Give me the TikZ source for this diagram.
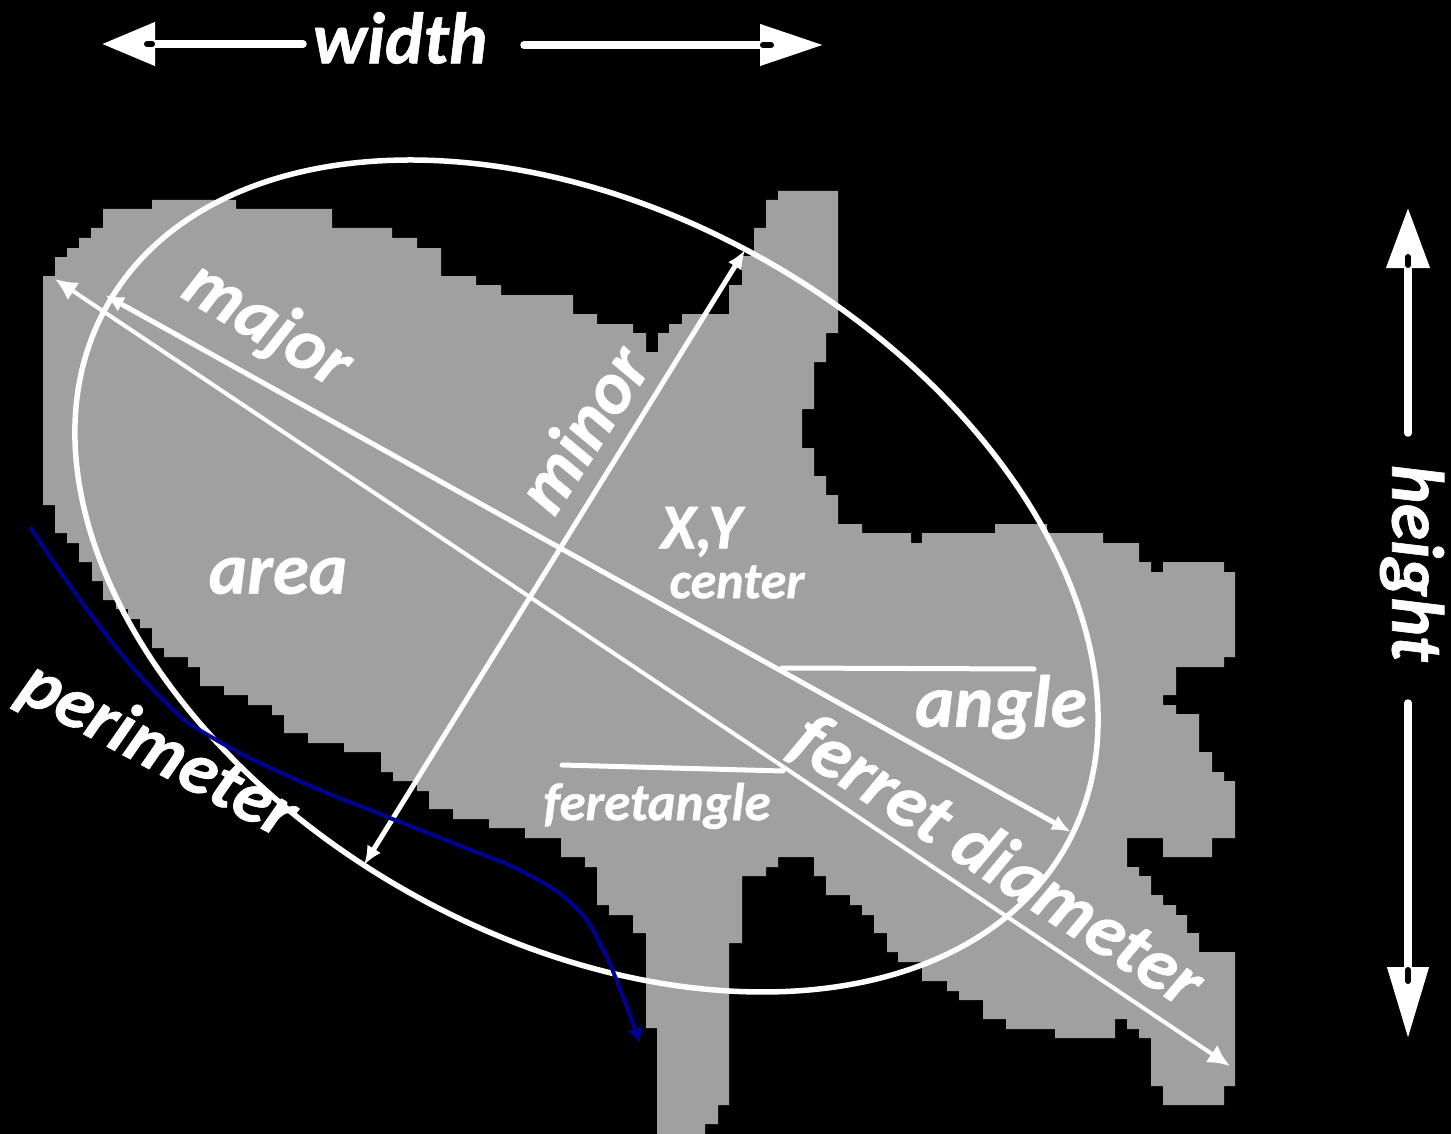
\documentclass[tikz,border=0pt]{standalone}
\usepackage{fontspec}
\setmainfont{Carlito}[BoldItalicFeatures={FakeBold=0.8}]
\usetikzlibrary{arrows.meta}
\definecolor{blobgray}{HTML}{A0A0A0}
\definecolor{pathblue}{HTML}{000090}
\tikzset{
  label/.style={text=white,inner sep=0pt,font=\fontsize{#1}{#1}\selectfont\bfseries\itshape},
  bigline/.style 2 args={draw=white,line width=7.5pt,line cap=round,-{Triangle[length=#1pt,width=#2pt]}},
  stub/.style={draw=black,line width=6pt,line cap=round},
  axisline/.style={draw=white,line width=5pt,{Latex[length=19pt,width=16pt]}-{Latex[length=19pt,width=16pt]}},
  feretline/.style={draw=white,line width=4pt,{Latex[length=22pt,width=21pt]}-{Latex[length=22pt,width=21pt]}},
  refline/.style={draw=white,line width=5pt,line cap=round},
}
\begin{document}
\begin{tikzpicture}[x=1pt,y=-1pt]
\useasboundingbox (0,0) rectangle (1451,1134);
\fill[black] (0,0) rectangle (1451,1134);
% blob
\fill[blobgray] (43,276) -| (55,257) -| (67,248) -| (79,238) -| (91,228) -| (103,209) -| (152,200)
 -| (236,209) -| (332,228) -| (392,238) -| (417,248) -| (441,276) -| (476,285) -| (501,295)
 -| (573,314) -| (597,324) -| (633,333) -| (646,352) -| (658,333) -| (669,324) -| (682,314)
 -| (729,285) -| (742,256) -| (754,228) -| (766,200) -| (778,191) -| (838,333) -| (826,362)
 -| (814,409) -| (802,448) -| (814,476) -| (826,495) -| (838,524) -| (862,533) -| (911,543)
 -| (922,533) -| (995,524) -| (1047,533) -| (1103,543) -| (1139,562) -| (1151,572) -| (1163,562)
 -| (1224,572) -| (1235,657) -| (1224,667) -| (1176,695) -| (1163,705) -| (1176,714) -| (1199,752)
 -| (1212,772) -| (1224,781) -| (1235,838) -| (1212,857) -| (1163,838) -| (1127,867) -| (1139,876)
 -| (1151,895) -| (1163,905) -| (1176,915) -| (1187,933) -| (1199,952) -| (1235,1086) -| (1224,1105)
 -| (1163,1086) -| (1151,1038) -| (1139,1029) -| (1127,1019) -| (1115,1038) -| (1055,1029)
 -| (1006,1019) -| (983,1000) -| (959,991) -| (947,981) -| (922,962) -| (898,952) -| (887,933)
 -| (874,915) -| (862,905) -| (850,895) -| (826,876) -| (814,857) -| (778,867) -| (766,876)
 -| (742,943) -| (729,1105) -| (718,1124) -| (705,1134) -| (657,1028) -| (646,933) -| (633,915)
 -| (609,905) -| (597,867) -| (585,857) -| (561,838) -| (525,828) -| (489,819) -| (453,809)
 -| (429,791) -| (417,781) -| (393,772) -| (381,752) -| (344,743) -| (308,733) -| (284,715)
 -| (272,705) -| (248,695) -| (224,686) -| (200,667) -| (188,657) -| (164,648) -| (152,628)
 -| (140,619) -| (128,609) -| (116,600) -| (103,581) -| (92,562) -| (79,543) -| (67,533)
 -| (55,505) -| (43,276) -- cycle;
% ellipse
\coordinate (ec) at (586.5,576);
\draw[white,line width=5.5pt,rotate around={-29.45:(ec)}] (ec) ellipse [x radius=550.5pt,y radius=362.8pt];
% named ends
\coordinate (majA) at (105,295);
\coordinate (majB) at (1071,832);
\coordinate (minA) at (745,250);
\coordinate (minB) at (364,865);
\coordinate (ferA) at (55,279);
\coordinate (ferB) at (1230,1066);
\coordinate (angA) at (782,668);
\coordinate (angB) at (1034,669);
\coordinate (fanA) at (562,765);
\coordinate (fanB) at (783,771);
\draw[axisline] (majA) -- (majB);
\draw[axisline] (minA) -- (minB);
\draw[feretline] (ferA) -- (ferB);
\draw[refline] (angA) -- (angB);
\draw[refline] (fanA) -- (fanB);
% blue perimeter curve
\coordinate (bS) at (30,527);
\coordinate (bE) at (640,1043);
\draw[pathblue,line width=4pt,-{Latex[length=15pt,width=17pt]}] plot[smooth,tension=0.8] coordinates
 {(bS) (97,623) (163,700) (213,738) (297,780) (390,818) (463,847) (525,873) (575,907) (603,950) (622,995) (bE)};
% big arrows
\coordinate (wL0) at (303,44); \coordinate (wL1) at (102,44);
\coordinate (wR0) at (524,45); \coordinate (wR1) at (823,45);
\coordinate (hT0) at (1408,433); \coordinate (hT1) at (1408,208);
\coordinate (hB0) at (1408,703); \coordinate (hB1) at (1408,1038);
\draw[bigline={53}{42}] (wL0) -- (wL1);
\draw[bigline={63}{40}] (wR0) -- (wR1);
\draw[bigline={60}{42}] (hT0) -- (hT1);
\draw[bigline={71}{40}] (hB0) -- (hB1);
\draw[stub] (147,44) -- (152,44);
\draw[stub] (763,45) -- (771,45);
\draw[stub] (1408,257) -- (1408,265);
\draw[stub] (1408,970) -- (1408,981);
% labels
\node[label=73] (lwidth) at (400,38) {width};
\node[label=74,rotate=-90] (lheight) at (1412,563) {height};
\node[label=74,rotate=-31] (lmajor) at (267,326) {major};
\node[label=74,rotate=57] (lminor) at (582,428) {minor};
\node[label=73] (larea) at (278,576) {area};
\node[label=64] (lxy) at (701,532) {X,Y};
\node[label=52] (lcenter) at (737,582) {center};
\node[label=74] (langle) at (1001,707) {angle};
\node[label=53] (lfan) at (657,806) {feretangle};
\node[label=75,rotate=-33] (lferret) at (997,862) {ferret diameter};
\node[label=74,rotate=-28] (lperim) at (158,751) {perimeter};
\end{tikzpicture}
\end{document}
